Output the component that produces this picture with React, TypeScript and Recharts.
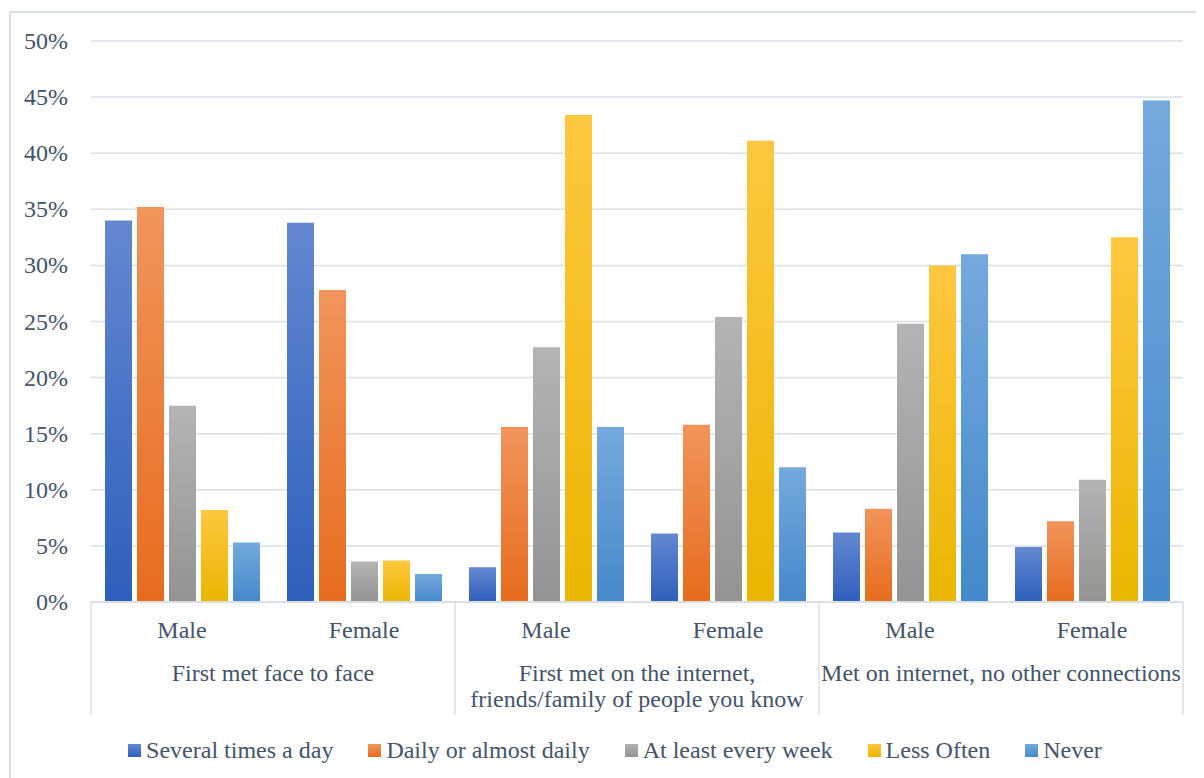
import React from 'react';
import { BarChart, Bar, XAxis, YAxis, CartesianGrid, Legend } from 'recharts';

// Share of respondents by contact frequency (%)
const genders = ['Male', 'Female', 'Male', 'Female', 'Male', 'Female'];
const groupLabels = [
  ['First met face to face'],
  ['First met on the internet,', 'friends/family of people you know'],
  ['Met on internet, no other connections'],
];
const severalTimesADay = [34.0, 33.8, 3.1, 6.1, 6.2, 4.9];
const dailyOrAlmost = [35.2, 27.8, 15.6, 15.8, 8.3, 7.2];
const atLeastWeekly = [17.5, 3.6, 22.7, 25.4, 24.8, 10.9];
const lessOften = [8.2, 3.7, 43.4, 41.1, 30.0, 32.5];
const never = [5.3, 2.5, 15.6, 12.0, 31.0, 44.7];
const yTicks = [0, 5, 10, 15, 20, 25, 30, 35, 40, 45, 50];

const series = [
  { key: 'several', name: 'Several times a day', top: '#6388D0', bottom: '#2F5FBD' },
  { key: 'daily', name: 'Daily or almost daily', top: '#F2945C', bottom: '#E66C1C' },
  { key: 'weekly', name: 'At least every week', top: '#B4B4B4', bottom: '#939393' },
  { key: 'less', name: 'Less Often', top: '#FFC740', bottom: '#E9B600' },
  { key: 'never', name: 'Never', top: '#75A9DE', bottom: '#4489CA' },
];

const data = genders.map((g, i) => ({
  gender: g,
  several: severalTimesADay[i],
  daily: dailyOrAlmost[i],
  weekly: atLeastWeekly[i],
  less: lessOften[i],
  never: never[i],
}));

const W = 1196;
const H = 770;
const MARGIN = { top: 33, right: 21, bottom: 8, left: 23 };
const Y_AXIS_W = 60;
const PLOT_W = W - MARGIN.left - Y_AXIS_W - MARGIN.right;
const BAND = PLOT_W / genders.length;
const TEXT = '#44546A';
const LINE = '#DADFE6';
const FONT = '"Liberation Serif", "Times New Roman", serif';
const FS = 24;

const ValueTick = (props: any) => {
  const { x, y, payload } = props;
  return (
    <text x={x} y={y} dy={8} textAnchor="end" fill={TEXT} fontSize={FS} fontFamily={FONT}>
      {`${payload.value}%`}
    </text>
  );
};

const CategoryTick = (props: any) => {
  const { x, y, index, payload } = props;
  const left = x - BAND / 2;
  const right = x + BAND / 2;
  const first = index % 2 === 0;
  const last = index === genders.length - 1;
  const lines = groupLabels[Math.floor(index / 2)];
  return (
    <g fontFamily={FONT}>
      <text x={x} y={y + 36} textAnchor="middle" fill={TEXT} fontSize={FS}>
        {payload.value}
      </text>
      {first && (
        <>
          <line x1={left} y1={y} x2={left} y2={y + 113} stroke={LINE} strokeWidth={1.5} />
          {lines.map((l, k) => (
            <text key={k} x={right} y={y + 79 + k * 26} textAnchor="middle" fill={TEXT} fontSize={FS}>
              {l}
            </text>
          ))}
        </>
      )}
      {last && <line x1={right} y1={y} x2={right} y2={y + 113} stroke={LINE} strokeWidth={1.5} />}
    </g>
  );
};

const LegendContent = () => (
  <div
    style={{
      display: 'flex',
      justifyContent: 'center',
      alignItems: 'center',
      height: 40,
      paddingLeft: 16,
      fontSize: FS,
      color: TEXT,
      fontFamily: FONT,
    }}
  >
    {series.map((s, i) => (
      <div key={s.key} style={{ display: 'flex', alignItems: 'center', marginRight: i < series.length - 1 ? 35 : 0 }}>
        <span
          style={{
            width: 13,
            height: 13,
            marginRight: 5,
            background: `linear-gradient(${s.top}, ${s.bottom})`,
            display: 'inline-block',
          }}
        />
        <span>{s.name}</span>
      </div>
    ))}
  </div>
);

export default function App() {
  return (
    <div style={{ position: 'relative', width: W, height: H, fontFamily: FONT }}>
      <div
        style={{
          position: 'absolute',
          left: 1,
          top: 3,
          width: W - 1,
          height: H - 3,
          borderLeft: `2px solid ${LINE}`,
          borderTop: `2px solid ${LINE}`,
          boxSizing: 'border-box',
        }}
      />
      <BarChart
        width={W}
        height={H}
        data={data}
        margin={MARGIN}
        barSize={27}
        barGap={5}
        style={{ position: 'absolute', left: 0, top: 0 }}
      >
        <defs>
          {series.map((s) => (
            <linearGradient key={s.key} id={`grad-${s.key}`} x1="0" y1="0" x2="0" y2="1">
              <stop offset="0%" stopColor={s.top} />
              <stop offset="100%" stopColor={s.bottom} />
            </linearGradient>
          ))}
        </defs>
        <CartesianGrid vertical={false} stroke={LINE} strokeWidth={1.5} />
        <YAxis
          width={Y_AXIS_W}
          domain={[0, 50]}
          ticks={yTicks}
          axisLine={false}
          tickLine={false}
          tickSize={0}
          tickMargin={23}
          tick={<ValueTick />}
        />
        <XAxis
          dataKey="gender"
          height={128}
          interval={0}
          tickLine={false}
          tickSize={0}
          tickMargin={0}
          axisLine={{ stroke: LINE, strokeWidth: 2 }}
          tick={<CategoryTick />}
        />
        <Legend verticalAlign="bottom" height={40} content={<LegendContent />} />
        {series.map((s) => (
          <Bar key={s.key} dataKey={s.key} name={s.name} fill={`url(#grad-${s.key})`} isAnimationActive={false} />
        ))}
      </BarChart>
    </div>
  );
}
